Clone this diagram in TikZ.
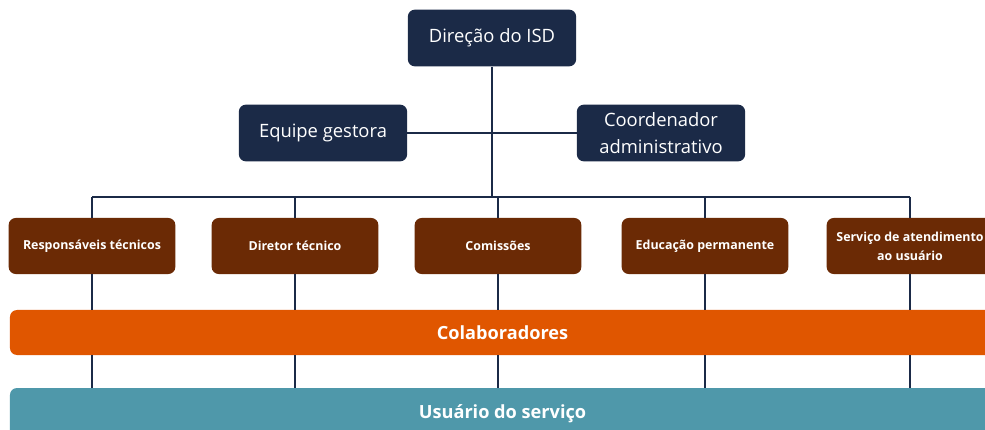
\documentclass[tikz,border=0pt]{standalone}
\usepackage{fontspec}
\setmainfont{Open Sans}
\usetikzlibrary{positioning}
\definecolor{navy}{HTML}{1B2A47}
\definecolor{brownbox}{HTML}{6B2A05}
\definecolor{orangebar}{HTML}{E05600}
\definecolor{tealbar}{HTML}{4F98AA}

\begin{document}
\begin{tikzpicture}[x=0.03cm, y=-0.03cm,
    topbox/.style = {fill=navy, rounded corners=6pt, text=white, align=center,
      minimum width=5.05cm, minimum height=1.7cm, inner sep=2pt,
      font=\fontsize{15.7}{22.5}\selectfont},
    unitbox/.style = {fill=brownbox, rounded corners=6pt, text=white, align=center,
      minimum width=5.0cm, minimum height=1.68cm, inner sep=2pt,
      font=\fontsize{10.6}{16}\selectfont\bfseries},
    bar/.style = {rounded corners=6pt, text=white, minimum width=29.55cm,
      font=\fontsize{15.5}{18}\selectfont\bfseries},
    link/.style = {draw=navy, line width=2.2pt}]
  \clip (0,0) rectangle (985,430);
  \fill[white] (0,0) rectangle (985,430);

  % top of the chart
  \node[topbox] (dir) at (492,38) {Direção do ISD};
  \node[topbox] (eq) at (323,133) {Equipe gestora};
  \node[topbox] (coord) at (661,133) {Coordenador\\administrativo};

  % the two bars
  \node[bar, fill=orangebar, minimum height=1.35cm] (colab) at (502.5,332.5) {Colaboradores};
  \node[bar, fill=tealbar, minimum height=1.56cm] (usr) at (502.5,414) {Usuário do serviço};

  % units
  \foreach \name/\x/\txt in {rt/92/Responsáveis técnicos, dt/295/Diretor técnico,
      cm/498/Comissões, ep/705/Educação permanente,
      sa/910/{Serviço de atendimento\\ao usuário}}{
    \node[unitbox] (\name) at (\x,246) {\txt};
  }

  \coordinate (bus) at (492,197);
  \draw[link] (dir) -- (bus);
  \draw[link] (eq) -- (coord);
  \draw[link] (bus -| rt) -- (bus -| sa);
  \foreach \name in {rt,dt,cm,ep,sa}{
    \draw[link] (bus -| \name) -- (\name.north);
    \draw[link] (\name.south) -- (\name.south |- colab.north);
    \draw[link] (\name.south |- colab.south) -- (\name.south |- usr.north);
  }
\end{tikzpicture}
\end{document}
